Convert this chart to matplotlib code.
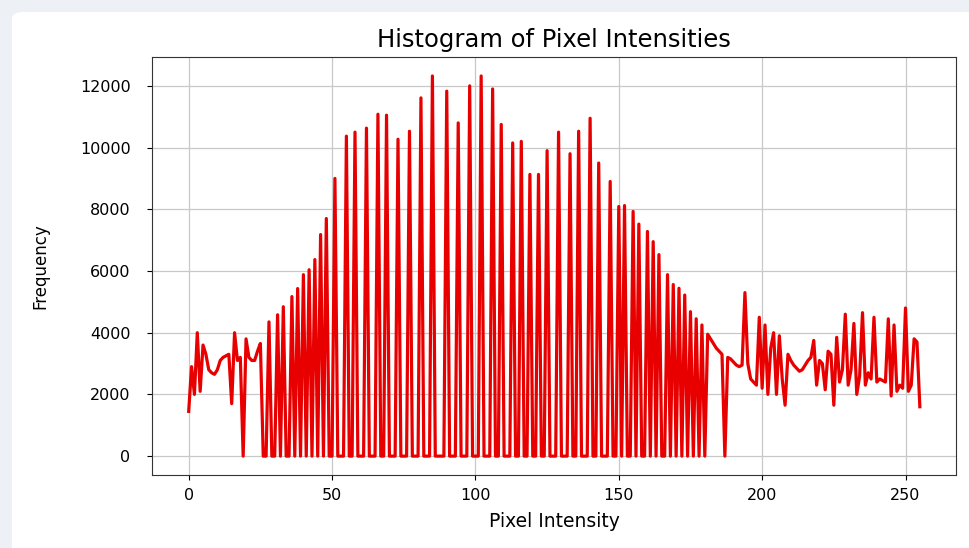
import matplotlib
matplotlib.use("Agg")
import matplotlib.pyplot as plt
from matplotlib.patches import FancyBboxPatch

# Histogram counts for pixel intensities 0..255
counts = [
    1450, 2900, 2000, 4000, 2100, 3600, 3300, 2800, 2700, 2650, 2800, 3100, 3200, 3250, 3300, 1700,
    4000, 3100, 3200, 0, 3800, 3200, 3100, 3100, 3400, 3650, 0, 0, 4350, 0, 0, 4580,
    0, 4840, 0, 0, 5170, 0, 5430, 0, 5880, 0, 6040, 0, 6370, 0, 7180, 0,
    7700, 0, 0, 9000, 0, 0, 0, 10370, 0, 0, 10500, 0, 0, 0, 10630, 0,
    0, 0, 11080, 0, 0, 11050, 0, 0, 0, 10270, 0, 0, 0, 10530, 0, 0,
    0, 11610, 0, 0, 0, 12320, 0, 0, 0, 0, 11830, 0, 0, 0, 10800, 0,
    0, 0, 12000, 0, 0, 0, 12320, 0, 0, 0, 11900, 0, 0, 10750, 0, 0,
    0, 10150, 0, 0, 10200, 0, 0, 9130, 0, 0, 9130, 0, 0, 9900, 0, 0,
    0, 10500, 0, 0, 0, 9800, 0, 0, 10530, 0, 0, 0, 10950, 0, 0, 9500,
    0, 0, 0, 8900, 0, 0, 8090, 0, 8120, 0, 0, 7930, 0, 7520, 0, 0,
    7280, 0, 6950, 0, 6530, 0, 0, 5880, 0, 5560, 0, 5440, 0, 5220, 0, 4680,
    0, 4450, 0, 4250, 0, 3950, 3800, 3650, 3500, 3400, 3300, 0, 3200, 3150, 3050, 2950,
    2900, 2950, 5300, 3000, 2500, 2400, 2300, 4500, 2200, 4250, 2000, 3500, 4000, 2000, 3900, 2500,
    1650, 3300, 3100, 2950, 2850, 2750, 2800, 2950, 3100, 3200, 3750, 2300, 3100, 3000, 2150, 3400,
    3300, 1650, 3850, 2400, 2800, 4600, 2300, 2800, 4300, 2000, 2600, 4650, 2300, 2700, 2500, 4500,
    2400, 2500, 2450, 2400, 4450, 1950, 4250, 2100, 2300, 2200, 4800, 2100, 2300, 3800, 3700, 1600,
]
intensity = list(range(len(counts)))

fig = plt.figure(figsize=(9.69, 5.48), dpi=100)
fig.patch.set_facecolor("#edf1f5")

# white card behind the chart (screenshot look)
card = FancyBboxPatch((12 / 969, -0.05), 1.1, 1.05 - 12 / 548,
                      boxstyle="round,pad=0,rounding_size=0.012",
                      transform=fig.transFigure, facecolor="white",
                      edgecolor="none", zorder=-1)
fig.patches.append(card)

ax = fig.add_axes([0.157, 0.133, 0.830, 0.763])
ax.set_facecolor("white")
ax.plot(intensity, counts, color="#e80000", linewidth=2.3)

ax.set_title("Histogram of Pixel Intensities", fontsize=17.5, pad=7)
ax.set_xlabel("Pixel Intensity", fontsize=13.5, labelpad=6)
ax.set_ylabel("Frequency", fontsize=12, labelpad=22)
ax.tick_params(labelsize=11.5)
ax.tick_params(axis="x", pad=6)
ax.tick_params(axis="y", pad=12)
ax.set_xticks([0, 50, 100, 150, 200, 250])
ax.set_yticks(range(0, 12001, 2000))
ax.grid(True, color="#c8c8c8", linewidth=0.9)
for s in ax.spines.values():
    s.set_color("#333333")

fig.savefig("out.png", dpi=100, facecolor=fig.get_facecolor())
